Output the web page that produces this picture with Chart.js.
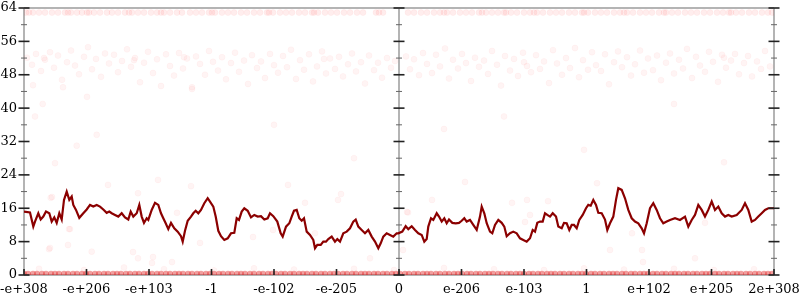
<!DOCTYPE html>
<html>
<head>
<meta charset="utf-8">
<script src="https://cdn.jsdelivr.net/npm/chart.js@4"></script>
<style>
  html, body { margin: 0; padding: 0; background: #fff; }
  #wrap { width: 800px; height: 300px; }
</style>
</head>
<body>
<div id="wrap"><canvas id="chart"></canvas></div>
<script>
// x positions run 0..750, one tick every 62.5
const xTickLabels = ["-e+308", "-e+206", "-e+103", "-1", "-e-102", "-e-205", "0",
                     "e-206", "e-103", "1", "e+102", "e+205", "2e+308"];
const verticalAxesAt = [0, 375, 750];

const lineX = [0, 6, 9.3, 11, 14.3, 16.7, 19.3, 22, 25.3, 27.7, 30.3, 32.7, 35.3, 37.7, 40, 42.7, 45.3, 47.7, 49.3, 52,
  55.3, 59.3, 62.7, 66, 69.3, 72.7, 76, 79.3, 82.7, 85.3, 87.7, 91, 94.3, 97.7, 101, 104.3, 106.7, 109.3, 112.7, 115.3,
  117.7, 120, 122.7, 124.3, 127.7, 131, 134.3, 137, 139.3, 141.7, 144.3, 147, 150.3, 153.7, 157, 158.7, 161, 163.7, 167, 169.3,
  171.7, 174.3, 177, 180.3, 183.7, 186, 189.3, 191.7, 194.3, 197, 200.3, 203.7, 207, 210.3, 212.7, 215, 217.7, 220.3, 223.7, 227,
  230.3, 233.7, 237, 240.3, 243.7, 246, 249.3, 253.3, 256.7, 258.7, 262, 265.3, 267.7, 270, 272.7, 275.3, 277.7, 280, 282.7, 286,
  289.3, 291, 293.3, 296.7, 299.3, 302, 304.3, 307.7, 311, 313.3, 316, 319.3, 322.7, 326, 329.3, 331.7, 334.3, 337.7, 341, 344.3,
  347.7, 351, 354.3, 356.7, 359.3, 362.7, 366, 369.3, 372.7, 374.3, 378.3, 381.7, 384.3, 387.7, 391, 394.3, 397.7, 400.3, 402.7, 404.3,
  407, 409.3, 412.7, 415, 417.7, 420.3, 422.7, 425, 428.3, 431.7, 435, 437.7, 440.3, 442.7, 446, 449.3, 452.7, 456, 457.7, 460.3,
  462.7, 466, 468.3, 471, 474.3, 477.7, 480.3, 482.7, 486, 489.3, 492.7, 496, 499.3, 502.7, 506, 508.7, 511, 513.3, 516, 518.7,
  521, 523.3, 526, 528.7, 532, 534.3, 537.7, 540, 542.7, 545.3, 547.7, 550, 552.7, 555.3, 558.7, 562, 564.3, 566.7, 569.3, 572,
  574.3, 577.7, 581, 583.3, 586, 589.3, 592, 594.3, 597.7, 601, 604.3, 607.7, 611, 614.3, 617.7, 620, 622.7, 626, 629.3, 632.7,
  636, 639.3, 642.7, 646, 651, 656, 661, 664.3, 667.7, 671, 674.3, 677.7, 681, 684.3, 687.7, 691, 694.3, 697.7, 701, 704.3,
  707.7, 712.7, 717.7, 721, 724.3, 727.7, 731, 734.3, 737.7, 741, 744.3, 750];
const lineY = [15.2, 15.0, 11.6, 12.8, 14.8, 13.3, 14.0, 15.2, 14.8, 12.8, 13.8, 12.5, 14.8, 13.3, 18.0, 20.0, 18.0, 18.8, 16.8, 15.6,
  13.7, 14.8, 15.7, 16.8, 16.4, 16.8, 16.4, 15.7, 14.9, 15.2, 14.8, 14.4, 14.0, 14.8, 13.8, 13.3, 15.2, 14.0, 14.8, 16.8,
  14.0, 12.5, 13.6, 13.2, 15.6, 17.3, 16.8, 14.8, 13.6, 12.4, 11.0, 12.5, 11.2, 10.4, 9.3, 8.0, 10.6, 13.0, 14.0, 14.8,
  15.4, 14.8, 15.6, 17.2, 18.4, 17.6, 16.4, 14.0, 10.6, 9.3, 8.4, 8.8, 10.0, 10.1, 13.6, 13.2, 15.2, 16.0, 15.4, 13.8,
  14.4, 14.0, 14.1, 13.3, 13.6, 14.8, 14.1, 12.8, 10.0, 9.2, 11.6, 12.4, 14.0, 15.4, 15.6, 13.6, 13.0, 13.6, 10.4, 9.6,
  8.4, 6.4, 7.2, 7.2, 8.0, 8.0, 8.6, 9.2, 8.0, 8.6, 8.0, 10.0, 10.4, 11.2, 12.8, 13.3, 11.6, 10.8, 10.0, 10.8,
  9.2, 8.0, 6.4, 7.6, 9.2, 10.0, 9.6, 9.2, 10.0, 10.0, 10.4, 11.7, 11.0, 11.7, 10.8, 10.0, 9.6, 8.0, 8.6, 11.6,
  13.6, 13.2, 14.8, 14.0, 12.8, 13.6, 12.4, 13.3, 12.5, 12.4, 12.5, 13.0, 13.6, 12.8, 13.2, 12.0, 10.8, 14.0, 16.4, 14.8,
  12.4, 10.4, 10.0, 12.0, 13.2, 12.5, 11.6, 9.3, 10.0, 10.4, 10.0, 8.8, 8.4, 8.0, 8.8, 10.8, 10.4, 12.5, 12.8, 12.8,
  14.8, 14.4, 14.0, 14.8, 14.0, 11.6, 11.2, 12.5, 12.4, 10.8, 12.0, 12.0, 11.2, 13.2, 14.4, 16.0, 16.8, 16.6, 18.0, 16.8,
  14.9, 14.8, 13.3, 10.8, 12.4, 14.0, 18.0, 20.8, 20.4, 18.4, 15.6, 13.6, 12.8, 12.4, 11.2, 10.0, 12.4, 16.0, 17.2, 15.6,
  13.6, 12.4, 12.8, 13.2, 13.6, 13.2, 14.0, 11.6, 13.2, 14.4, 16.8, 15.6, 14.0, 15.6, 17.6, 15.6, 16.4, 14.8, 14.0, 14.4,
  14.0, 14.4, 15.6, 17.2, 15.6, 12.8, 13.2, 14.0, 14.8, 15.6, 16.0, 16.0];

// faint samples
const topRowLevel = 62.9;
const topRowX = [2, 5, 9, 15, 21, 28, 34, 41, 44, 47, 53, 58, 63, 65, 70, 76, 83, 88, 94, 101, 105, 108, 114, 120, 127,
  133, 137, 140, 146, 153, 158, 166, 172, 178, 185, 188, 191, 198, 204, 210, 217, 223, 230, 236, 243, 245, 249, 256, 262,
  268, 275, 281, 288, 290, 294, 301, 307, 313, 320, 326, 333, 339, 352, 355, 359, 384, 390, 397, 403, 410, 416, 420, 423,
  429, 436, 442, 448, 455, 458, 462, 468, 474, 480, 482, 487, 493, 500, 506, 510, 513, 519, 526, 532, 538, 545, 551, 558,
  560, 564, 571, 577, 583, 590, 596, 600, 603, 609, 616, 622, 628, 635, 640, 642, 648, 654, 661, 667, 673, 680, 686, 693,
  699, 705, 707, 712, 718, 725, 731, 738, 744, 748];

const bottomRowLevel = 0.3;
const bottomRowX = [0, 4, 9, 13, 18, 22, 27, 31, 35, 40, 44, 49, 53, 58, 62, 66, 71, 75, 80, 84, 89, 93, 97, 102, 106, 111,
  115, 120, 124, 128, 133, 137, 142, 146, 151, 155, 159, 164, 168, 173, 177, 182, 186, 190, 195, 199, 204, 208, 213, 217,
  221, 226, 230, 235, 239, 244, 248, 252, 257, 261, 266, 270, 275, 279, 283, 288, 292, 297, 301, 306, 310, 314, 319, 323,
  328, 332, 337, 341, 345, 350, 354, 359, 363, 368, 372, 376, 381, 385, 390, 394, 399, 403, 407, 412, 416, 421, 425, 430,
  434, 438, 443, 447, 452, 456, 461, 465, 469, 474, 478, 483, 487, 492, 496, 500, 505, 509, 514, 518, 523, 527, 531, 536,
  540, 545, 549, 554, 558, 562, 567, 571, 576, 580, 585, 589, 593, 598, 602, 607, 611, 616, 620, 624, 629, 633, 638, 642,
  647, 651, 655, 660, 664, 669, 673, 678, 682, 686, 691, 695, 700, 704, 709, 713, 717, 722, 726, 731, 735, 740, 744, 748];

const cloudPoints = [[3, 52.1], [8, 50.4], [12, 53.0], [17, 48.9], [20, 52.0], [21, 51.6], [26, 53.4], [30, 49.7], [34, 52.6],
  [38, 46.8], [43, 51.0], [47, 53.8], [51, 50.2], [55, 48.1], [60, 52.3], [64, 54.6], [68, 49.3], [72, 51.8], [77, 47.5],
  [81, 53.1], [85, 50.7], [90, 52.8], [94, 48.6], [98, 51.3], [103, 54.1], [107, 49.9], [110, 51.5], [111, 52.0], [116, 46.2],
  [120, 50.9], [124, 53.5], [129, 48.4], [133, 51.7], [137, 45.3], [142, 52.9], [146, 50.1], [150, 47.8], [155, 53.2],
  [159, 49.5], [160, 52.2], [163, 51.9], [168, 44.6], [172, 52.4], [176, 50.6], [181, 48.0], [185, 53.7], [189, 51.1],
  [194, 49.0], [198, 52.2], [202, 46.9], [207, 50.8], [211, 53.3], [215, 48.7], [220, 51.4], [224, 45.8], [228, 52.7],
  [233, 49.6], [237, 51.2], [241, 47.2], [246, 53.0], [250, 50.3], [254, 48.5], [259, 52.5], [263, 49.8], [267, 54.0],
  [272, 47.0], [276, 51.5], [280, 49.2], [285, 52.9], [289, 46.4], [293, 50.0], [298, 53.6], [300, 51.8], [302, 48.3],
  [306, 51.9], [311, 49.4], [315, 52.3], [319, 47.6], [324, 50.5], [328, 53.1], [332, 48.8], [337, 51.0], [341, 45.9],
  [345, 52.6], [350, 49.1], [354, 50.9], [358, 47.3], [363, 52.0], [367, 49.7], [371, 51.3],
  [382, 52.4], [386, 49.3], [390, 51.7], [395, 47.9], [399, 53.2], [403, 50.6], [408, 48.4], [412, 52.8], [416, 50.0],
  [421, 54.3], [425, 47.1], [429, 51.6], [434, 49.5], [438, 53.0], [442, 50.8], [447, 46.5], [451, 52.1], [455, 49.9],
  [460, 51.4], [464, 48.2], [468, 53.7], [473, 50.4], [477, 45.4], [481, 52.5], [486, 49.0], [490, 51.8], [494, 47.7],
  [499, 53.3], [500, 51.0], [503, 50.1], [507, 48.6], [512, 52.7], [516, 49.4], [520, 51.2], [525, 46.0], [529, 53.9],
  [533, 50.7], [538, 48.0], [542, 52.0], [546, 49.6], [551, 54.4], [555, 47.4], [559, 51.5], [564, 49.2], [568, 53.4],
  [572, 50.3], [577, 48.9], [581, 52.9], [585, 45.7], [590, 51.0], [594, 53.6], [598, 49.8], [603, 52.2], [607, 47.8],
  [611, 50.5], [616, 53.8], [620, 48.5], [624, 51.9], [629, 49.1], [633, 52.6], [637, 46.7], [642, 50.9], [646, 53.1],
  [650, 48.3], [655, 51.6], [659, 49.5], [663, 54.2], [668, 47.2], [672, 52.3], [676, 50.2], [681, 48.7], [685, 53.5],
  [689, 51.1], [694, 46.3], [698, 52.8], [700, 52.1], [702, 49.7], [707, 51.4], [711, 53.0], [715, 48.1], [720, 50.8],
  [724, 52.5], [728, 47.6], [733, 51.2], [737, 49.4], [741, 53.7], [746, 50.0]];

const strayPoints = [[18.7, 41], [11, 38], [72.7, 33.6], [52.7, 31], [31, 26.8], [26.7, 18.5], [46, 11], [25, 6.2],
  [67.7, 5.6], [109, 5.5], [114, 4.0], [129, 4.3], [128, 2.9], [148, 3.1], [291, 10], [346, 4], [383, 15.1], [379, 6],
  [586, 6], [618, 6], [608, 10], [619, 3.1], [671, 4], [681, 12.5], [264, 21.6], [317, 19.4], [281, 17.3], [314, 18],
  [441, 22.3], [408, 18], [384, 15], [488, 17.3], [573, 22], [524, 17.7], [503, 18], [506, 14.4], [501, 12.7], [84, 21.6],
  [28, 18.7], [114, 19.6], [45, 11], [26, 6.5], [44, 7.2], [134, 22.8], [167, 21.3], [153, 14.9], [229, 9.1], [176, 7.7],
  [249, 10.8], [9, 45.5], [39, 45], [63, 42.7], [168, 45], [480, 38], [560, 30], [650, 41], [700, 27], [420, 35], [250, 36],
  [330, 28], [15, 1.5], [60, 1.2], [100, 1.8], [140, 1.4], [190, 1.1], [230, 1.6], [270, 1.3], [330, 1.5], [370, 1.2],
  [420, 1.7], [470, 1.4], [520, 1.2], [560, 1.6], [600, 1.3], [650, 1.5], [690, 1.2], [730, 1.4]];

const toXY = pairs => pairs.map(([x, y]) => ({ x, y }));

// axis frame: gray lines at left, centre, right, top, bottom, with crossing ticks
const axisFrame = {
    id: "axisFrame",
    beforeDatasetsDraw(chart) {
        const { ctx, chartArea: a, scales } = chart;
        ctx.save();
        ctx.strokeStyle = "#b4b4b4";
        ctx.lineWidth = 2;
        ctx.beginPath();
        verticalAxesAt.forEach(v => {
            const px = scales.x.getPixelForValue(v);
            ctx.moveTo(px, a.top);
            ctx.lineTo(px, a.bottom);
        });
        ctx.moveTo(a.left, a.top);
        ctx.lineTo(a.right, a.top);
        ctx.moveTo(a.left, a.bottom);
        ctx.lineTo(a.right, a.bottom);
        ctx.stroke();
        ctx.restore();
    },
    afterDatasetsDraw(chart) {
        const { ctx, chartArea: a, scales } = chart;
        const ys = scales.y;
        ctx.save();
        verticalAxesAt.forEach(v => {
            const px = scales.x.getPixelForValue(v);
            for (let t = ys.min; t <= ys.max; t += 4) {
                const py = ys.getPixelForValue(t);
                const major = t % 8 === 0;
                const half = major ? 5.5 : 3;
                ctx.strokeStyle = major ? "#222" : "#666";
                ctx.lineWidth = major ? 1.6 : 1;
                ctx.beginPath();
                ctx.moveTo(px - half, py);
                ctx.lineTo(px + half, py);
                ctx.stroke();
            }
        });
        ctx.strokeStyle = "#222";
        ctx.lineWidth = 1.6;
        scales.x.ticks.forEach(t => {
            const px = scales.x.getPixelForValue(t.value);
            ctx.beginPath();
            ctx.moveTo(px, a.bottom);
            ctx.lineTo(px, a.bottom - 6);
            ctx.stroke();
        });
        ctx.restore();
    },
};

Chart.defaults.font.family = "'DejaVu Serif', serif";
Chart.defaults.font.size = 13;
Chart.defaults.color = "#000";

const faint = {
    pointRadius: 3,
    pointHoverRadius: 3,
    backgroundColor: "rgba(255, 0, 0, 0.045)",
    borderColor: "rgba(255, 0, 0, 0.03)",
    borderWidth: 1,
};

new Chart(document.getElementById("chart"), {
    type: "scatter",
    data: {
        datasets: [
            {
                type: "line",
                label: "trend",
                data: lineX.map((x, i) => ({ x, y: lineY[i] })),
                borderColor: "#8b0000",
                borderWidth: 2.2,
                pointRadius: 0,
                tension: 0,
                order: 0,
            },
            { label: "top", data: topRowX.map(x => ({ x, y: topRowLevel })), ...faint,
              backgroundColor: "rgba(255, 0, 0, 0.07)", borderColor: "rgba(255, 0, 0, 0.04)", order: 2 },
            { label: "bottom", data: bottomRowX.map(x => ({ x, y: bottomRowLevel })), ...faint,
              backgroundColor: "rgba(225, 25, 25, 0.42)", borderWidth: 0, order: 2 },
            { label: "cloud", data: toXY(cloudPoints), ...faint, order: 3 },
            { label: "stray", data: toXY(strayPoints), ...faint, order: 3 },
        ],
    },
    options: {
        responsive: true,
        maintainAspectRatio: false,
        animation: false,
        events: [],
        layout: { padding: { top: 8, right: 26, left: 0, bottom: 0 } },
        plugins: {
            legend: { display: false },
            tooltip: { enabled: false },
        },
        scales: {
            x: {
                type: "linear",
                min: 0,
                max: 750,
                grid: { display: false, drawTicks: false },
                border: { display: false },
                ticks: {
                    stepSize: 62.5,
                    padding: 7,
                    maxRotation: 0,
                    autoSkip: false,
                    callback: (v, i) => xTickLabels[i],
                },
                afterFit(scale) {
                    scale.height = 25;
                    scale.paddingLeft = 0;
                    scale.paddingRight = 0;
                },
            },
            y: {
                min: 0,
                max: 64,
                grid: { display: false, drawTicks: false },
                border: { display: false },
                ticks: { stepSize: 8, padding: 7 },
                afterFit(scale) {
                    scale.width = 24;
                    scale.paddingTop = 0;
                    scale.paddingBottom = 0;
                },
            },
        },
    },
    plugins: [axisFrame],
});
</script>
</body>
</html>
